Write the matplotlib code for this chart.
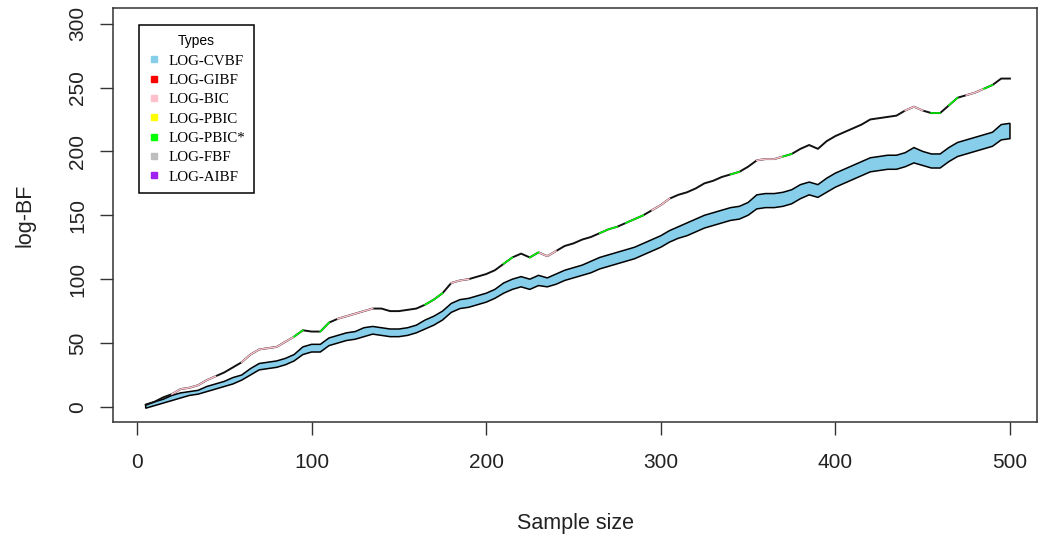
import numpy as np
import matplotlib.pyplot as plt
from matplotlib.lines import Line2D

# --- dados ---
tamanho = np.arange(5, 505, 5)  # tamanho da amostra

# faixa do LOG-CVBF (limite superior e inferior)
cvbf_sup = [2, 4, 6, 9, 11, 12, 13, 16, 18, 20,
            23, 25, 30, 34, 35, 36, 38, 41, 47, 49,
            49, 54, 56, 58, 59, 62, 63, 62, 61, 61,
            62, 64, 68, 71, 75, 81, 84, 85, 87, 89,
            92, 97, 100, 102, 100, 103, 101, 104, 107, 109,
            111, 114, 117, 119, 121, 123, 125, 128, 131, 134,
            138, 141, 144, 147, 150, 152, 154, 156, 157, 160,
            166, 167, 167, 168, 170, 174, 176, 174, 179, 183,
            186, 189, 192, 195, 196, 197, 197, 199, 203, 200,
            198, 198, 203, 207, 209, 211, 213, 215, 221, 222]
cvbf_inf = [-1, 1, 3, 5, 7, 9, 10, 12, 14, 16,
            18, 21, 25, 29, 30, 31, 33, 36, 41, 43,
            43, 48, 50, 52, 53, 55, 57, 56, 55, 55,
            56, 58, 61, 64, 68, 74, 77, 78, 80, 82,
            85, 89, 92, 94, 92, 95, 94, 96, 99, 101,
            103, 105, 108, 110, 112, 114, 116, 119, 122, 125,
            129, 132, 134, 137, 140, 142, 144, 146, 147, 150,
            155, 156, 156, 157, 159, 163, 166, 164, 168, 172,
            175, 178, 181, 184, 185, 186, 186, 188, 191, 189,
            187, 187, 192, 196, 198, 200, 202, 204, 209, 210]

# curva dos demais métodos (GIBF, BIC, PBIC, PBIC*, FBF, AIBF quase coincidem)
demais = [1.5, 4, 7.5, 10, 14, 15, 17, 21, 24, 27,
          31, 35, 41, 45, 46, 47, 51, 55, 60, 59,
          59, 66, 69, 71, 73, 75, 77, 77, 75, 75,
          76, 77, 80, 84, 89, 97, 99, 100, 102, 104,
          107, 112, 117, 120, 117, 121, 118, 122, 126, 128,
          131, 133, 136, 139, 141, 144, 147, 150, 154, 158,
          163, 166, 168, 171, 175, 177, 180, 182, 184, 188,
          193, 194, 194, 196, 198, 202, 205, 202, 208, 212,
          215, 218, 221, 225, 226, 227, 228, 232, 235, 232,
          230, 230, 236, 242, 244, 246, 249, 252, 257, 257]

# trechos em que a cor do BIC ou do PBIC* aparece por cima
trechos_bic = [(20, 45), (60, 90), (115, 135), (180, 190), (230, 240),
               (295, 305), (355, 370), (440, 450), (475, 485)]
trechos_pbic_star = [(90, 95), (105, 110), (165, 175), (210, 215), (225, 230),
                     (265, 275), (280, 290), (340, 345), (370, 375),
                     (455, 460), (465, 470), (485, 490)]

tipos = ['LOG-CVBF', 'LOG-GIBF', 'LOG-BIC', 'LOG-PBIC', 'LOG-PBIC*', 'LOG-FBF', 'LOG-AIBF']
cores = ['#87CEEB', '#FF0000', '#FFC0CB', '#FFFF00', '#00FF00', '#BEBEBE', '#A020F0']

# --- gráfico ---
fig = plt.figure(figsize=(10.39, 5.35), dpi=100)
ax = fig.add_axes([0.1088, 0.2107, 0.8893, 0.7738])

x = np.array(tamanho)
sup = np.array(cvbf_sup)
inf = np.array(cvbf_inf)
outros = np.array(demais)

# faixa azul do CVBF com borda preta
ax.fill(np.concatenate([x, x[::-1]]), np.concatenate([sup, inf[::-1]]),
        facecolor=cores[0], edgecolor='black', linewidth=1.1, zorder=2)

# curva dos demais métodos
ax.plot(x, outros, color='#111111', linewidth=1.4, zorder=3)
for a, b in trechos_bic:
    m = (x >= a) & (x <= b)
    ax.plot(x[m], outros[m], color=cores[2], linewidth=1.1, zorder=4)
for a, b in trechos_pbic_star:
    m = (x >= a) & (x <= b)
    ax.plot(x[m], outros[m], color=cores[4], linewidth=1.1, zorder=4)

ax.set_xlim(-13.7, 515.5)
ax.set_ylim(-12, 312)
ax.set_xticks([0, 100, 200, 300, 400, 500])
ax.set_yticks([0, 50, 100, 150, 200, 250, 300])
ax.tick_params(direction='out', length=9.4, width=1, colors='#333333',
               labelsize=15, labelcolor='#222222')
ax.tick_params(axis='x', pad=13)
ax.tick_params(axis='y', pad=9)
for lab in ax.get_yticklabels():
    lab.set_rotation(90)
    lab.set_va('center')
for lab in ax.get_xticklabels() + ax.get_yticklabels():
    lab.set_fontfamily('Liberation Sans')
for s in ax.spines.values():
    s.set_linewidth(1.1)
    s.set_color('#333333')

ax.set_xlabel('Sample size', fontsize=15.5, family='Liberation Sans',
              color='#222222', labelpad=29)
ax.set_ylabel('log-BF', fontsize=15.5, family='Liberation Sans',
              color='#222222', labelpad=24)

# legenda
marcas = [Line2D([0], [0], marker='s', linestyle='none', markersize=4.5,
                 markerfacecolor=c, markeredgecolor=c) for c in cores]
leg = ax.legend(marcas, tipos, title='Types', loc='upper left',
                bbox_to_anchor=(0.0282, 0.959), fancybox=False, framealpha=1,
                edgecolor='black', prop={'family': 'Liberation Serif', 'size': 10.8},
                title_fontproperties={'family': 'Liberation Sans', 'size': 10},
                handlelength=0.8, handletextpad=0.53, labelspacing=0.39,
                borderpad=0.6, borderaxespad=0)
leg.get_frame().set_linewidth(1.1)

fig.savefig('out.png', dpi=100)
